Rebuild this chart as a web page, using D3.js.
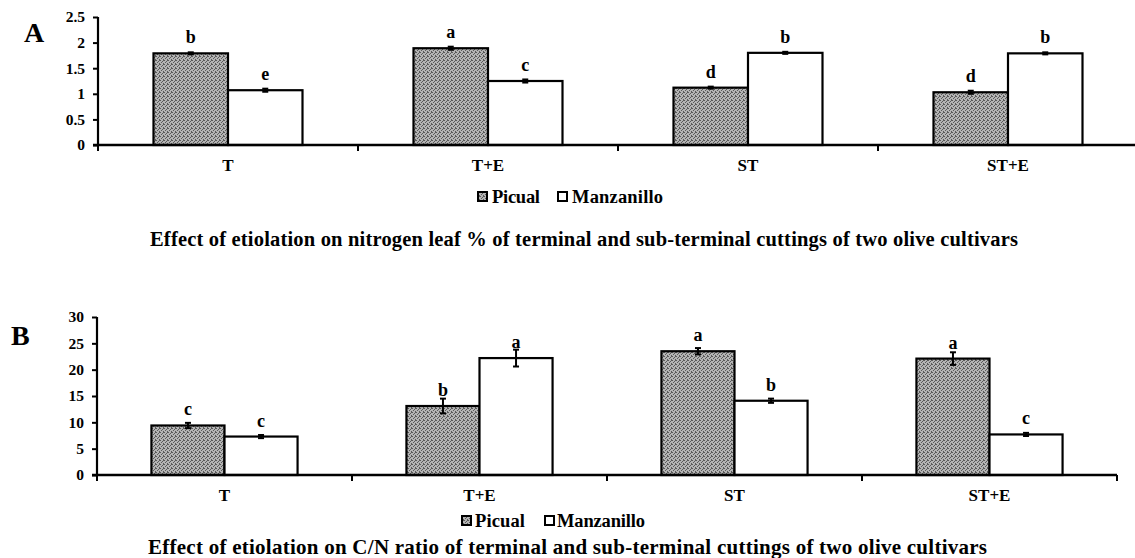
<!DOCTYPE html>
<html>
<head>
<meta charset="utf-8">
<script src="https://cdn.jsdelivr.net/npm/d3@7"></script>
<style>
  html, body { margin: 0; padding: 0; background: #fff; }
  svg { display: block; font-family: "Liberation Serif", "Times New Roman", serif; font-weight: bold; }
</style>
</head>
<body>
<svg id="chart" width="1135" height="558"></svg>
<script>
// ---- Data ----
const categories = ["T", "T+E", "ST", "ST+E"];
const seriesNames = ["Picual", "Manzanillo"];

// Panel A: nitrogen leaf %
const nitrogenPicual = [1.79, 1.89, 1.12, 1.03];
const nitrogenManzanillo = [1.07, 1.25, 1.80, 1.79];
const nitrogenErrPicual = [0.02, 0.03, 0.02, 0.03];
const nitrogenErrManzanillo = [0.03, 0.03, 0.02, 0.02];
const nitrogenLettersPicual = ["b", "a", "d", "d"];
const nitrogenLettersManzanillo = ["e", "c", "b", "b"];
const nitrogenTicks = [0, 0.5, 1, 1.5, 2, 2.5];

// Panel B: C/N ratio
const cnPicual = [9.4, 13.1, 23.5, 22.1];
const cnManzanillo = [7.3, 22.2, 14.1, 7.7];
const cnErrPicual = [0.5, 1.4, 0.6, 1.2];
const cnErrManzanillo = [0.3, 1.6, 0.4, 0.3];
const cnLettersPicual = ["c", "b", "a", "a"];
const cnLettersManzanillo = ["c", "a", "b", "c"];
const cnTicks = [0, 5, 10, 15, 20, 25, 30];

const titleA = "Effect of etiolation on nitrogen leaf % of terminal and sub-terminal cuttings of two olive cultivars";
const titleB = "Effect of etiolation on C/N ratio of terminal and sub-terminal cuttings of two olive cultivars";

// ---- Drawing ----
const svg = d3.select("#chart");
const defs = svg.append("defs");
const pat = defs.append("pattern").attr("id", "stipple")
  .attr("patternUnits", "userSpaceOnUse").attr("width", 4).attr("height", 4);
pat.append("rect").attr("width", 4).attr("height", 4).attr("fill", "#b4b4b4");
[[0,0],[2,1],[1,2],[3,3],[3,0]].forEach(([px,py]) =>
  pat.append("rect").attr("x", px).attr("y", py).attr("width", 1).attr("height", 1).attr("fill", "#5a5a5a"));

const fills = ["url(#stipple)", "#ffffff"];

function drawPanel(cfg) {
  const g = svg.append("g");
  const x0 = d3.scaleBand().domain(categories).range(cfg.xRange).paddingInner(0).paddingOuter(0);
  const x1 = d3.scaleBand().domain(seriesNames).range([0, x0.bandwidth()]).paddingInner(0).paddingOuter(0.745);
  const y = d3.scaleLinear().domain(cfg.yDomain).range(cfg.yRange);

  const rows = [];
  categories.forEach((c, i) => {
    cfg.values.forEach((vals, s) => {
      rows.push({ cat: c, s: s, name: seriesNames[s], v: vals[i], e: cfg.errs[s][i], l: cfg.letters[s][i] });
    });
  });

  // bars
  g.selectAll("rect.bar").data(rows).join("rect")
    .attr("class", "bar")
    .attr("x", d => x0(d.cat) + x1(d.name))
    .attr("y", d => y(d.v))
    .attr("width", x1.bandwidth())
    .attr("height", d => y(0) - y(d.v))
    .attr("fill", d => fills[d.s])
    .attr("stroke", "#000").attr("stroke-width", 2.2);

  // error bars
  const cx = d => x0(d.cat) + x1(d.name) + x1.bandwidth() / 2;
  const eg = g.append("g").attr("stroke", "#000").attr("stroke-width", 2);
  rows.forEach(d => {
    const top = y(d.v + d.e), bot = y(d.v - d.e);
    eg.append("line").attr("x1", cx(d)).attr("x2", cx(d)).attr("y1", top).attr("y2", bot);
    eg.append("line").attr("x1", cx(d) - 3).attr("x2", cx(d) + 3).attr("y1", top).attr("y2", top);
    eg.append("line").attr("x1", cx(d) - 3).attr("x2", cx(d) + 3).attr("y1", bot).attr("y2", bot);
  });

  // letters
  g.selectAll("text.letter").data(rows).join("text")
    .attr("class", "letter")
    .attr("x", d => cx(d))
    .attr("y", d => y(d.v) - 10)
    .attr("text-anchor", "middle")
    .attr("font-size", 18)
    .text(d => d.l);

  // y axis
  const yAxis = d3.axisLeft(y).tickValues(cfg.ticks).tickSize(5).tickPadding(8)
    .tickFormat(d3.format("~g"));
  const ya = g.append("g").attr("transform", `translate(${cfg.xRange[0]},0)`).call(yAxis);
  ya.select(".domain").remove();
  ya.selectAll(".tick line").attr("stroke", "#000").attr("stroke-width", 2);
  ya.selectAll(".tick text").attr("font-size", 15.5).attr("font-weight", "bold")
    .attr("font-family", "Liberation Serif").attr("fill", "#000");
  g.append("line").attr("x1", cfg.xRange[0]).attr("x2", cfg.xRange[0])
    .attr("y1", y(cfg.yDomain[0]) + 1).attr("y2", y(cfg.yDomain[1]))
    .attr("stroke", "#000").attr("stroke-width", 2.2);

  // x axis
  const xAxis = d3.axisBottom(x0).tickSize(0).tickPadding(14);
  const xa = g.append("g").attr("transform", `translate(0,${y(0)})`).call(xAxis);
  xa.select(".domain").remove();
  xa.selectAll(".tick text").attr("font-size", 17).attr("font-weight", "bold")
    .attr("font-family", "Liberation Serif").attr("fill", "#000");
  g.append("line").attr("x1", cfg.xRange[0] - 5).attr("x2", cfg.xRange[1])
    .attr("y1", y(0)).attr("y2", y(0)).attr("stroke", "#000").attr("stroke-width", 2.5);
  const bounds = categories.map(c => x0(c)).concat([cfg.xRange[1]]);
  g.selectAll("line.bt").data(bounds).join("line").attr("class", "bt")
    .attr("x1", d => d).attr("x2", d => d).attr("y1", y(0)).attr("y2", y(0) + 6)
    .attr("stroke", "#000").attr("stroke-width", 2);

  // panel letter
  g.append("text").attr("x", cfg.panelPos[0]).attr("y", cfg.panelPos[1])
    .attr("font-size", 28).text(cfg.panel);

  // legend
  const lg = g.append("g");
  cfg.legend.forEach((L, i) => {
    lg.append("rect").attr("x", L.sx).attr("y", cfg.legendY - 5).attr("width", 9).attr("height", 9)
      .attr("fill", fills[i]).attr("stroke", "#000").attr("stroke-width", 2);
    lg.append("text").attr("x", L.tx).attr("y", cfg.legendY).attr("dy", "0.35em")
      .attr("font-size", 18.5).attr("textLength", L.tw).attr("lengthAdjust", "spacing")
      .text(seriesNames[i]);
  });

  // title
  g.append("text").attr("x", cfg.titlePos[0]).attr("y", cfg.titlePos[1])
    .attr("font-size", cfg.titleSize)
    .attr("textLength", cfg.titleWidth).attr("lengthAdjust", "spacing")
    .text(cfg.title);
}

drawPanel({
  panel: "A", panelPos: [24, 42],
  xRange: [98, 1138], yDomain: [0, 2.5], yRange: [145, 17], ticks: nitrogenTicks,
  values: [nitrogenPicual, nitrogenManzanillo],
  errs: [nitrogenErrPicual, nitrogenErrManzanillo],
  letters: [nitrogenLettersPicual, nitrogenLettersManzanillo],
  legendY: 197, legend: [{ sx: 478, tx: 492, tw: 48 }, { sx: 558, tx: 572, tw: 91 }],
  title: titleA, titlePos: [150, 246], titleSize: 20.5, titleWidth: 868
});

drawPanel({
  panel: "B", panelPos: [11, 345],
  xRange: [97, 1117], yDomain: [0, 30], yRange: [475, 317], ticks: cnTicks,
  values: [cnPicual, cnManzanillo],
  errs: [cnErrPicual, cnErrManzanillo],
  letters: [cnLettersPicual, cnLettersManzanillo],
  legendY: 521, legend: [{ sx: 462, tx: 475, tw: 50 }, { sx: 545, tx: 557, tw: 88 }],
  title: titleB, titlePos: [148, 554], titleSize: 21, titleWidth: 839
});
</script>
</body>
</html>
